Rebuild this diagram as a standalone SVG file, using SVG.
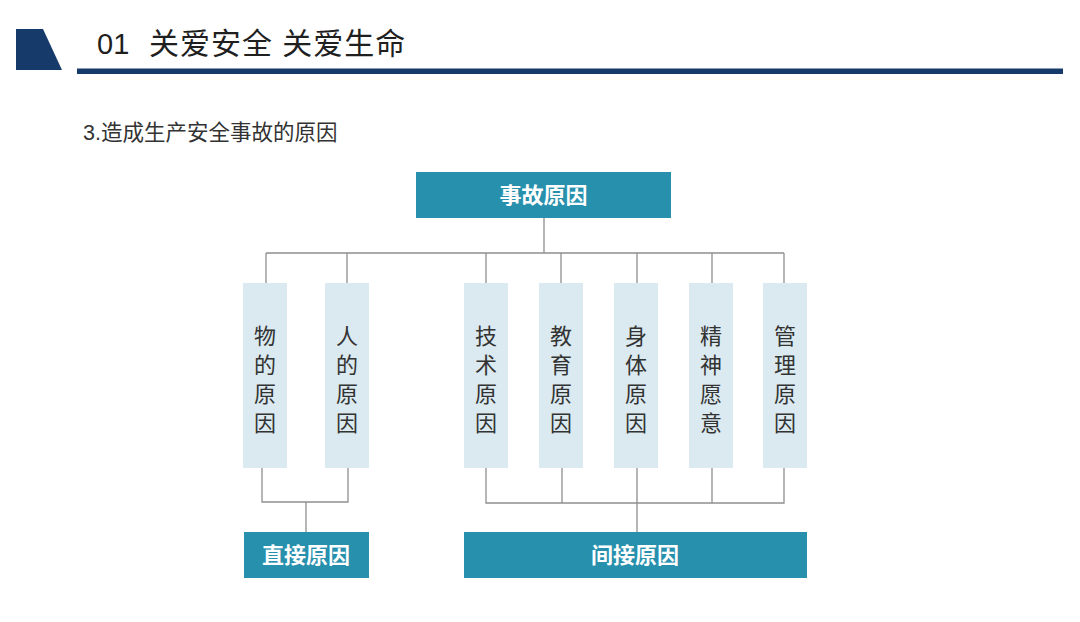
<svg xmlns="http://www.w3.org/2000/svg" width="1080" height="622" viewBox="0 0 1080 622">
<style>
.t{font-family:"Liberation Sans","Noto Sans CJK SC",sans-serif}
.dark{fill:#163a6a}
.teal{fill:#2790ad}
.light{fill:#dbeaf0}
.wt{fill:#ffffff;font-size:22px;font-weight:bold;text-anchor:middle;font-family:"Noto Sans CJK SC",sans-serif}
.vt{fill:#333333;font-size:22px;text-anchor:middle;font-family:"Noto Sans CJK SC",sans-serif}
.ln{stroke:#8f8f8f;stroke-width:1.3;fill:none}
</style>
<rect width="1080" height="622" fill="#ffffff"/>
<g id="header">
<polygon class="dark" points="16,29 43,29 62,70 16,70"/>
<rect class="dark" x="77" y="68.5" width="986" height="5.5"/>
<text class="t" x="97" y="54" font-size="29" fill="#1f1f1f">01</text>
<text class="t" x="149" y="54" font-size="30" letter-spacing="1" fill="#1f1f1f">关爱安全 关爱生命</text>
<text class="t" x="83" y="140" font-size="21.5" fill="#333333">3.造成生产安全事故的原因</text>
</g>
<g id="connectors">
<path class="ln" d="M544,218V253M266,253H784M266,253V283M347,253V283M486,253V283M561,253V283M637,253V283M712,253V283M784,253V283"/>
<path class="ln" d="M262,468V502H348V468M306,502V532"/>
<path class="ln" d="M486,468V503H784V468M562,468V503M637,468V532M712,468V503"/>
</g>
<g id="n-root">
<rect class="teal" x="416" y="172" width="255" height="46"/>
<text class="wt" x="543.5" y="203">事故原因</text>
</g>
<g id="n-wu">
<rect class="light" x="243" y="283" width="44" height="185"/>
<text class="vt" x="265" y="344">物</text><text class="vt" x="265" y="373">的</text><text class="vt" x="265" y="402">原</text><text class="vt" x="265" y="431">因</text>
</g>
<g id="n-ren">
<rect class="light" x="325" y="283" width="44" height="185"/>
<text class="vt" x="347" y="344">人</text><text class="vt" x="347" y="373">的</text><text class="vt" x="347" y="402">原</text><text class="vt" x="347" y="431">因</text>
</g>
<g id="n-jishu">
<rect class="light" x="464" y="283" width="44" height="185"/>
<text class="vt" x="486" y="344">技</text><text class="vt" x="486" y="373">术</text><text class="vt" x="486" y="402">原</text><text class="vt" x="486" y="431">因</text>
</g>
<g id="n-jiaoyu">
<rect class="light" x="539" y="283" width="44" height="185"/>
<text class="vt" x="561" y="344">教</text><text class="vt" x="561" y="373">育</text><text class="vt" x="561" y="402">原</text><text class="vt" x="561" y="431">因</text>
</g>
<g id="n-shenti">
<rect class="light" x="614" y="283" width="44" height="185"/>
<text class="vt" x="636" y="344">身</text><text class="vt" x="636" y="373">体</text><text class="vt" x="636" y="402">原</text><text class="vt" x="636" y="431">因</text>
</g>
<g id="n-jingshen">
<rect class="light" x="689" y="283" width="44" height="185"/>
<text class="vt" x="711" y="344">精</text><text class="vt" x="711" y="373">神</text><text class="vt" x="711" y="402">愿</text><text class="vt" x="711" y="431">意</text>
</g>
<g id="n-guanli">
<rect class="light" x="763" y="283" width="44" height="185"/>
<text class="vt" x="785" y="344">管</text><text class="vt" x="785" y="373">理</text><text class="vt" x="785" y="402">原</text><text class="vt" x="785" y="431">因</text>
</g>
<g id="n-direct">
<rect class="teal" x="244" y="532" width="125" height="46"/>
<text class="wt" x="306" y="563">直接原因</text>
</g>
<g id="n-indirect">
<rect class="teal" x="464" y="532" width="343" height="46"/>
<text class="wt" x="635" y="563">间接原因</text>
</g>
</svg>
